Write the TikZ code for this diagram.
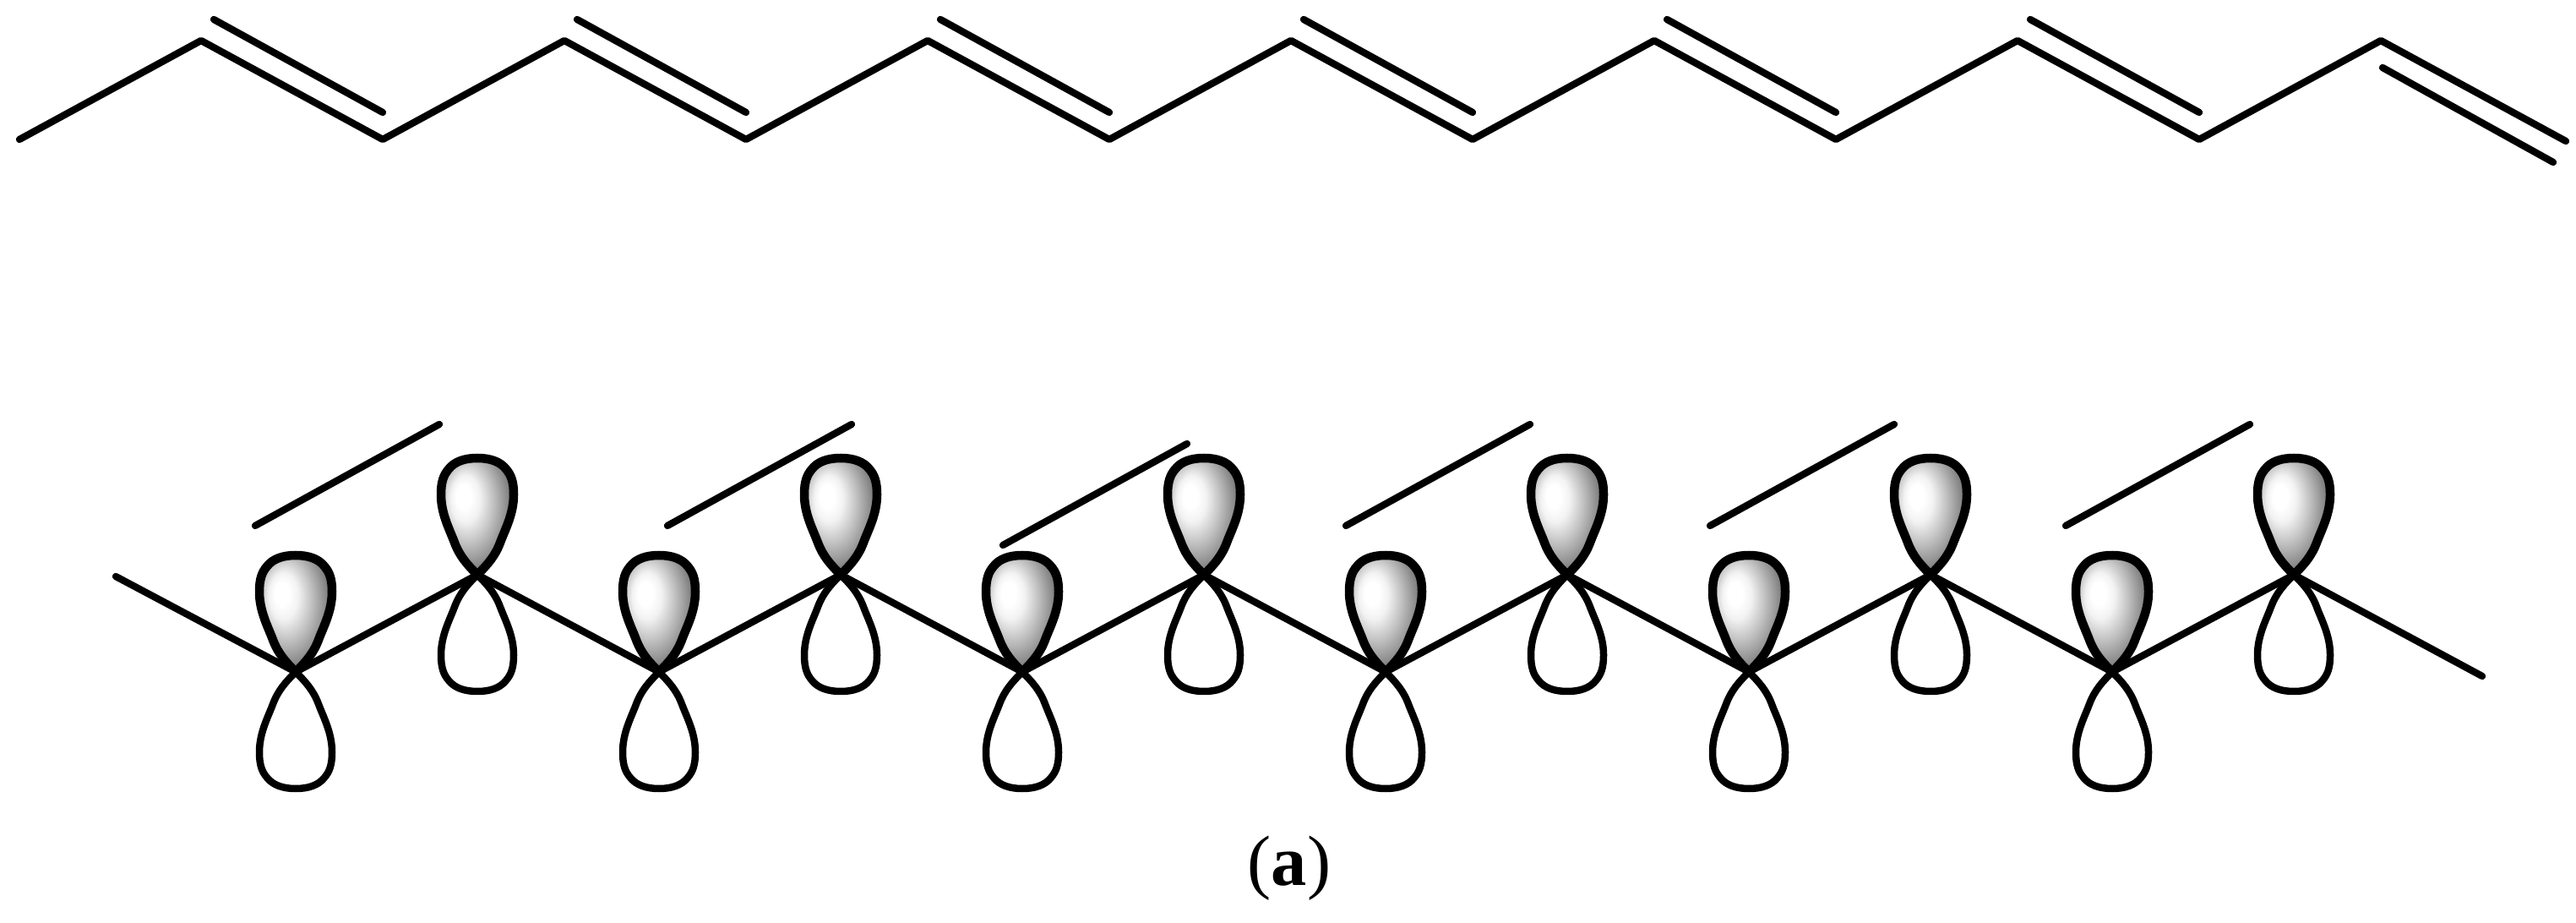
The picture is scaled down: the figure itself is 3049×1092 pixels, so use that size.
\documentclass[tikz,border=0pt]{standalone}
\usepackage{fontspec}
\setmainfont{Liberation Serif}
\pgfdeclareradialshading{lobeshade}{\pgfpoint{-10.5bp}{9.5bp}}{
  color(0bp)=(white); color(5bp)=(white); color(10bp)=(black!5);
  color(17.5bp)=(black!24); color(25bp)=(black!44); color(32.5bp)=(black!64); color(40bp)=(black!82); color(50bp)=(black!92)}
\tikzset{
  x=0.01cm,y=-0.01cm,
  bond/.style={line width=0.083cm,line cap=round,line join=round,black},
  upperlobe/.style={line width=0.105cm,draw=black,shading=lobeshade,line join=round},
  lowerlobe/.style={line width=0.085cm,draw=black,fill=white,line join=round},
  lobepath/.pic={
    \path[pic actions] (0,0) .. controls (-12,12) and (-21,22) .. (-27,38)
      .. controls (-33,54) and (-43,72) .. (-43,95)
      .. controls (-43,110) and (-40,118) .. (-34,125)
      .. controls (-27,134) and (-15,138) .. (0,138)
      .. controls (15,138) and (27,134) .. (34,125)
      .. controls (40,118) and (43,110) .. (43,95)
      .. controls (43,72) and (33,54) .. (27,38)
      .. controls (21,22) and (12,12) .. (0,0) -- cycle;
  }
}
\begin{document}
\begin{tikzpicture}
\useasboundingbox (0,0) rectangle (3049,1092);
% top chain
\coordinate (t0) at (23,165);
\foreach \i in {0,...,6}{
  \pgfmathtruncatemacro\px{238+430*\i}
  \pgfmathtruncatemacro\vx{453+430*\i}
  \coordinate (p\i) at (\px,48);
  \coordinate (v\i) at (\vx,165);
}
\coordinate (endC) at (3037,167);
\draw[bond] (t0) -- (p0) -- (v0) -- (p1) -- (v1) -- (p2) -- (v2) -- (p3) -- (v3) -- (p4) -- (v4) -- (p5) -- (v5) -- (p6) -- (endC);
\foreach \i in {0,...,5}{
  \draw[bond] ([shift={(15,-25)}]p\i) -- ([shift={(0,-32)}]v\i);
}
\coordinate (inA) at (2820,80);
\coordinate (inB) at (3022,192);
\draw[bond] (inA) -- (inB);
% lower chain
\coordinate (s) at (137,682);
\coordinate (e) at (2938,800);
\foreach \i in {0,...,5}{
  \pgfmathtruncatemacro\lx{350+430*\i}
  \pgfmathtruncatemacro\hx{565+430*\i}
  \coordinate (L\i) at (\lx,795);
  \coordinate (H\i) at (\hx,680);
}
\draw[bond] (s) -- (L0) -- (H0) -- (L1) -- (H1) -- (L2) -- (H2) -- (L3) -- (H3) -- (L4) -- (H4) -- (L5) -- (H5) -- (e);
\foreach \i in {0,...,5}{
  \pic[lowerlobe] at (L\i) {lobepath};
  \pic[lowerlobe] at (H\i) {lobepath};
}
\foreach \i in {0,...,5}{
  \pic[upperlobe,yscale=-1] at (L\i) {lobepath};
  \pic[upperlobe,yscale=-1] at (H\i) {lobepath};
}
% pi lines
\foreach \n/\ax/\ay in {a/302/622,b/790/622,c/1187/645,d/1593/622,e/2024/622,f/2445/622}{
  \coordinate (pa\n) at (\ax,\ay);
  \coordinate (pb\n) at ([shift={(218,-120)}]pa\n);
  \draw[bond] (pa\n) -- (pb\n);
}
\node[inner sep=0pt,font=\fontsize{24pt}{28pt}\selectfont] (lab) at (1526,1027) {(\textbf{a})};
\end{tikzpicture}
\end{document}
